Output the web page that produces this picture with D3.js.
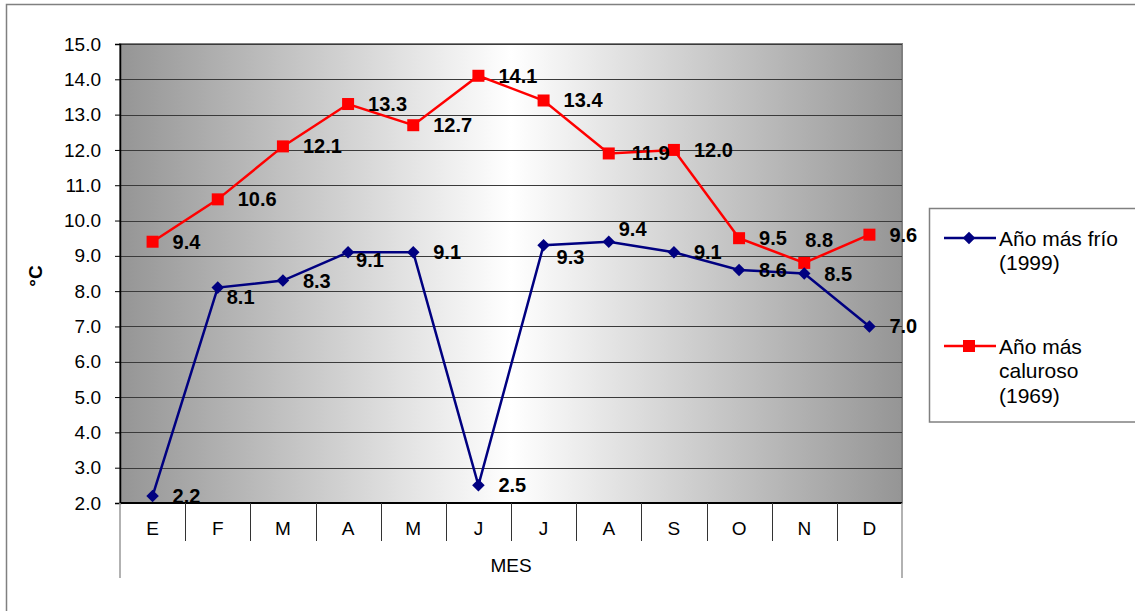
<!DOCTYPE html>
<html>
<head>
<meta charset="utf-8">
<script src="https://cdn.jsdelivr.net/npm/d3@7/dist/d3.min.js"></script>
<style>
  html, body { margin: 0; padding: 0; background: #fff; }
  svg { display: block; font-family: "Liberation Sans", Arial, sans-serif; }
</style>
</head>
<body>
<svg id="chart" width="1135" height="611"></svg>
<script>
// Monthly mean temperatures (°C)
const months = ["E", "F", "M", "A", "M", "J", "J", "A", "S", "O", "N", "D"];
const coldYear = [2.2, 8.1, 8.3, 9.1, 9.1, 2.5, 9.3, 9.4, 9.1, 8.6, 8.5, 7.0];
const hotYear = [9.4, 10.6, 12.1, 13.3, 12.7, 14.1, 13.4, 11.9, 12.0, 9.5, 8.8, 9.6];
const yTicks = [2, 3, 4, 5, 6, 7, 8, 9, 10, 11, 12, 13, 14, 15];
const coldName = ["Año más frío", "(1999)"];
const hotName = ["Año más", "caluroso", "(1969)"];

// Layout
const plot = { left: 120, right: 902, top: 44, bottom: 503 };
// label offsets (dx, dy) relative to the default spot right of each point
const coldNudge = { 1: [-11, 9], 3: [-12, 8], 6: [-7, 12], 7: [-10, -13] };
const hotNudge = { 7: [3, 0], 10: [-19, -23] };

const svg = d3.select("#chart");

// outer chart frame
svg.append("rect").attr("x", 6.5).attr("y", 4.5).attr("width", 1200).attr("height", 700)
  .attr("fill", "#fff").attr("stroke", "#808080").attr("stroke-width", 1.5);

const x = d3.scaleBand().domain(d3.range(months.length)).range([plot.left, plot.right]);
const y = d3.scaleLinear().domain([2, 15]).range([plot.bottom, plot.top]);
const cx = i => x(i) + x.bandwidth() / 2;

// plot background gradient
const defs = svg.append("defs");
const grad = defs.append("linearGradient").attr("id", "bg").attr("x1", "0").attr("x2", "1").attr("y1", "0").attr("y2", "0");
grad.append("stop").attr("offset", "0").attr("stop-color", "#959595");
grad.append("stop").attr("offset", "0.5").attr("stop-color", "#ffffff");
grad.append("stop").attr("offset", "1").attr("stop-color", "#959595");

svg.append("rect").attr("x", plot.left).attr("y", plot.top)
  .attr("width", plot.right - plot.left).attr("height", plot.bottom - plot.top)
  .attr("fill", "url(#bg)").attr("stroke", "#808080").attr("stroke-width", 2);

// horizontal gridlines
svg.append("g").selectAll("line").data(yTicks.filter(t => t > 2)).join("line")
  .attr("x1", plot.left).attr("x2", plot.right)
  .attr("y1", d => Math.round(y(d)) + 0.5).attr("y2", d => Math.round(y(d)) + 0.5)
  .attr("stroke", "#3a3a3a").attr("stroke-width", 1);

// y axis
const yAxis = d3.axisLeft(y).tickValues(yTicks).tickFormat(d3.format(".1f")).tickSize(5).tickPadding(14);
const gy = svg.append("g").attr("transform", `translate(${plot.left},0)`).call(yAxis);
gy.select(".domain").attr("stroke", "#000").attr("stroke-width", 1.5);
gy.selectAll(".tick line").attr("stroke", "#000");
gy.selectAll(".tick text").attr("font-size", 19).attr("fill", "#000")
  .attr("font-family", "Liberation Sans, Arial, sans-serif");

// category table under the plot
svg.append("line").attr("x1", plot.left).attr("x2", plot.right)
  .attr("y1", plot.bottom).attr("y2", plot.bottom).attr("stroke", "#000").attr("stroke-width", 2);
svg.append("g").selectAll("line").data(d3.range(1, months.length)).join("line")
  .attr("x1", i => Math.round(x(i)) + 0.5).attr("x2", i => Math.round(x(i)) + 0.5)
  .attr("y1", plot.bottom).attr("y2", 541).attr("stroke", "#333").attr("stroke-width", 1);
[plot.left, plot.right].forEach(px => {
  svg.append("line").attr("x1", px).attr("x2", px).attr("y1", plot.bottom).attr("y2", 578)
    .attr("stroke", "#999").attr("stroke-width", 1.5);
});
svg.append("g").selectAll("text").data(months).join("text")
  .attr("x", (d, i) => cx(i)).attr("y", 535).attr("text-anchor", "middle")
  .attr("font-size", 19).attr("fill", "#000").text(d => d);

// axis titles
svg.append("text").attr("x", 511).attr("y", 572).attr("text-anchor", "middle")
  .attr("font-size", 19).attr("fill", "#000").text("MES");
svg.append("text").attr("transform", "translate(42,276) rotate(-90)").attr("text-anchor", "middle")
  .attr("font-size", 19).attr("font-weight", "bold").attr("fill", "#000").text("°C");

// series
const line = d3.line().x((d, i) => cx(i)).y(d => y(d));
const diamond = d3.symbol().type(d3.symbolDiamond2).size(100);

function drawSeries(values, color, marker) {
  const g = svg.append("g");
  g.append("path").datum(values).attr("d", line).attr("fill", "none")
    .attr("stroke", color).attr("stroke-width", 2.5).attr("stroke-linejoin", "miter");
  if (marker === "square") {
    g.selectAll("rect").data(values).join("rect")
      .attr("x", (d, i) => cx(i) - 6).attr("y", d => y(d) - 6)
      .attr("width", 12).attr("height", 12).attr("fill", color);
  } else {
    g.selectAll(".mk").data(values).join("path").attr("class", "mk")
      .attr("d", diamond).attr("transform", (d, i) => `translate(${cx(i)},${y(d)})`).attr("fill", color);
  }
  return g;
}

function drawLabels(values, nudge) {
  svg.append("g").selectAll("text").data(values).join("text")
    .attr("x", (d, i) => cx(i) + 20 + (nudge[i] ? nudge[i][0] : 0))
    .attr("y", (d, i) => y(d) + 7 + (nudge[i] ? nudge[i][1] : 0))
    .attr("font-size", 20).attr("font-weight", "bold").attr("fill", "#000")
    .text(d3.format(".1f"));
}

drawSeries(hotYear, "#ff0000", "square");
drawSeries(coldYear, "#000080", "diamond");
drawLabels(hotYear, hotNudge);
drawLabels(coldYear, coldNudge);

// legend
const lg = svg.append("g");
lg.append("rect").attr("x", 929.5).attr("y", 208.5).attr("width", 300).attr("height", 213.5)
  .attr("fill", "#fff").attr("stroke", "#808080").attr("stroke-width", 1.5);
const entries = [
  { name: coldName, color: "#000080", marker: "diamond", y: 238 },
  { name: hotName, color: "#ff0000", marker: "square", y: 346 }
];
entries.forEach(e => {
  lg.append("line").attr("x1", 944).attr("x2", 996).attr("y1", e.y).attr("y2", e.y)
    .attr("stroke", e.color).attr("stroke-width", 2.5);
  if (e.marker === "square") {
    lg.append("rect").attr("x", 963).attr("y", e.y - 6).attr("width", 12).attr("height", 12).attr("fill", e.color);
  } else {
    lg.append("path").attr("d", diamond).attr("transform", `translate(969,${e.y})`).attr("fill", e.color);
  }
  e.name.forEach((t, k) => {
    lg.append("text").attr("x", 999).attr("y", e.y + 7.5 + k * 24.5)
      .attr("font-size", 21).attr("fill", "#000").text(t);
  });
});
</script>
</body>
</html>
